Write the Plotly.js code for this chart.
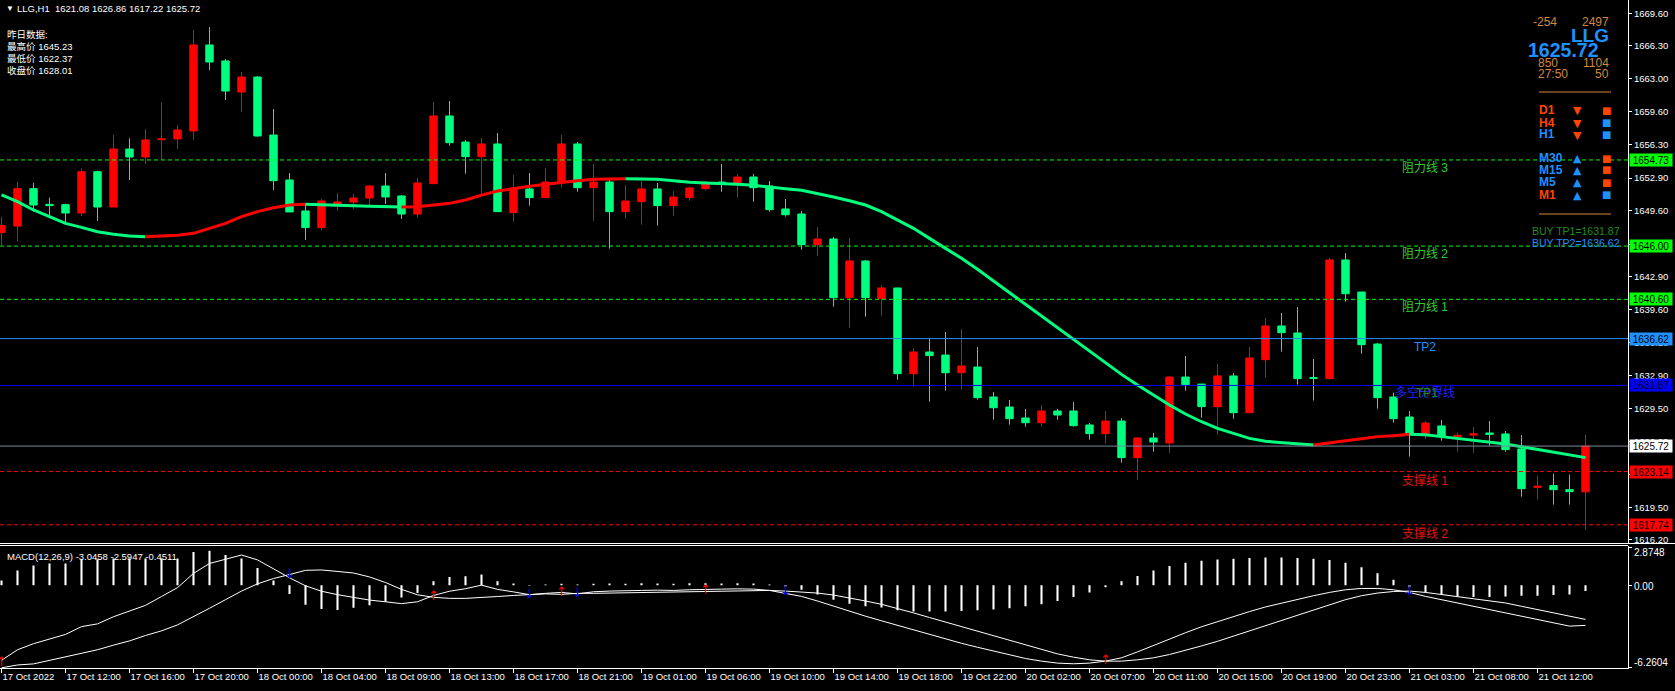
<!DOCTYPE html>
<html><head><meta charset="utf-8">
<script src="https://cdn.plot.ly/plotly-3.0.1.min.js"></script>
<style>html,body{margin:0;padding:0;background:#000;}#chart{width:1675px;height:691px;}</style>
</head><body><div id="chart"></div>
<script>
// ---------------- DATA ----------------
const symbol = 'LLG';
const period = 'H1';
const tickText = ['17 Oct 2022','17 Oct 12:00','17 Oct 16:00','17 Oct 20:00','18 Oct 00:00','18 Oct 04:00','18 Oct 09:00','18 Oct 13:00','18 Oct 17:00','18 Oct 21:00','19 Oct 01:00','19 Oct 06:00','19 Oct 10:00','19 Oct 14:00','19 Oct 18:00','19 Oct 22:00','20 Oct 02:00','20 Oct 07:00','20 Oct 11:00','20 Oct 15:00','20 Oct 19:00','20 Oct 23:00','21 Oct 03:00','21 Oct 08:00','21 Oct 12:00'];
const tickEvery = 4;

const open = [1647.36,1648.03,1651.82,1650.23,1650.20,1649.35,1653.54,1649.96,1655.84,1655.03,
1656.79,1656.86,1657.67,1666.39,1664.77,1661.62,1663.14,1657.26,1652.70,1649.56,
1647.87,1650.27,1650.47,1650.87,1652.09,1651.08,1649.25,1652.33,1659.19,1656.55,
1655.06,1656.35,1649.39,1651.79,1650.91,1652.49,1656.35,1651.92,1652.49,1649.49,
1650.50,1651.79,1650.10,1650.91,1651.82,1652.49,1652.33,1653.00,1652.09,1649.76,
1649.25,1646.14,1646.72,1640.77,1644.49,1640.67,1641.75,1633.06,1635.26,1634.95,
1633.16,1633.74,1630.70,1629.68,1628.57,1628.09,1629.28,1629.28,1627.86,1626.98,
1628.26,1624.55,1626.54,1626.03,1632.72,1632.01,1629.72,1632.83,1629.11,1634.48,
1637.90,1637.19,1632.66,1632.56,1644.59,1641.34,1636.07,1630.70,1628.67,1626.95,
1627.76,1626.68,1626.84,1627.05,1626.95,1625.43,1621.54,1621.71,1621.30,1621.08];
const high = [1648.98,1652.53,1652.43,1650.91,1650.30,1653.88,1653.65,1657.26,1656.92,1657.87,
1660.57,1658.28,1667.91,1668.21,1664.97,1663.65,1663.24,1659.90,1653.41,1650.33,
1650.77,1651.38,1651.28,1652.19,1653.41,1651.18,1652.90,1660.61,1660.71,1656.75,
1656.96,1657.46,1653.20,1653.41,1653.91,1657.26,1656.55,1654.32,1652.70,1652.19,
1652.60,1652.39,1651.58,1652.00,1652.60,1654.32,1653.31,1653.31,1652.60,1650.77,
1649.56,1647.93,1646.92,1646.82,1644.59,1642.05,1641.80,1635.66,1636.58,1637.29,
1637.59,1635.77,1631.20,1630.39,1629.48,1629.89,1629.48,1630.19,1628.06,1629.28,
1628.57,1626.64,1627.05,1632.83,1634.85,1632.01,1634.04,1633.13,1635.77,1638.71,
1639.21,1639.82,1634.55,1644.79,1645.30,1641.34,1636.17,1631.14,1629.28,1628.26,
1628.37,1627.08,1627.66,1628.26,1627.25,1626.84,1622.72,1622.92,1622.82,1626.86];
const low = [1646.11,1646.51,1649.49,1649.15,1648.20,1649.05,1648.54,1649.96,1652.70,1654.32,
1654.73,1655.84,1656.76,1663.85,1660.81,1659.59,1657.09,1651.69,1649.46,1646.62,
1647.63,1649.56,1649.76,1649.96,1650.27,1648.75,1648.88,1652.26,1656.18,1653.34,
1651.35,1649.49,1648.47,1650.10,1650.91,1651.92,1651.51,1648.57,1645.74,1648.78,
1648.17,1648.07,1649.08,1650.60,1651.62,1651.51,1650.91,1650.50,1649.49,1648.98,
1645.63,1645.03,1639.86,1637.73,1638.84,1638.94,1632.45,1631.74,1630.22,1631.34,
1631.44,1630.43,1628.40,1627.89,1627.69,1627.69,1628.40,1627.69,1626.37,1625.96,
1624.04,1622.31,1625.15,1625.05,1631.34,1628.60,1626.88,1628.50,1629.11,1632.66,
1635.29,1631.95,1630.33,1632.46,1640.36,1635.09,1629.51,1628.10,1624.65,1626.44,
1626.27,1625.15,1625.05,1625.76,1625.15,1620.59,1620.29,1619.78,1619.78,1617.22];
const close = [1648.07,1651.82,1650.16,1650.10,1649.35,1653.54,1649.96,1655.84,1655.03,1656.76,
1656.86,1657.77,1666.39,1664.66,1661.72,1663.14,1657.16,1652.63,1649.46,1647.87,
1650.57,1650.47,1650.87,1652.09,1650.98,1649.25,1652.40,1659.19,1656.48,1655.06,
1656.35,1649.49,1651.89,1650.91,1652.49,1656.35,1651.92,1652.49,1649.49,1650.57,
1651.79,1650.10,1650.97,1651.89,1652.39,1652.36,1653.00,1651.92,1649.69,1649.18,
1646.14,1646.72,1640.77,1644.49,1640.77,1641.75,1633.06,1635.26,1634.89,1633.16,
1633.84,1630.63,1629.61,1628.50,1628.09,1629.28,1628.87,1627.79,1626.98,1628.26,
1624.55,1626.54,1626.13,1632.72,1631.95,1629.72,1632.83,1629.11,1634.65,1637.90,
1637.22,1632.56,1632.59,1644.59,1641.17,1636.00,1630.63,1628.50,1626.95,1628.06,
1626.74,1626.81,1626.95,1626.91,1625.36,1621.40,1621.64,1621.30,1621.10,1625.72];
const maLine = [1651.18,1650.50,1649.66,1648.98,1648.30,1647.90,1647.46,1647.19,1647.02,1646.95,
1647.02,1647.09,1647.29,1647.80,1648.30,1648.98,1649.49,1649.89,1650.16,1650.23,
1650.20,1650.14,1650.10,1650.03,1650.00,1649.96,1649.99,1650.16,1650.33,1650.67,
1651.17,1651.58,1651.85,1652.06,1652.26,1652.46,1652.63,1652.77,1652.80,1652.83,
1652.82,1652.77,1652.63,1652.46,1652.39,1652.36,1652.26,1652.16,1652.02,1651.82,
1651.65,1651.35,1650.98,1650.60,1650.16,1649.49,1648.64,1647.80,1646.78,1645.77,
1644.76,1643.64,1642.46,1641.27,1640.03,1638.84,1637.66,1636.47,1635.29,1634.11,
1632.99,1631.91,1630.90,1629.88,1628.97,1628.19,1627.52,1627.01,1626.50,1626.20,
1626.07,1625.90,1625.83,1626.07,1626.27,1626.47,1626.68,1626.78,1626.91,1626.88,
1626.68,1626.51,1626.34,1626.17,1625.93,1625.66,1625.39,1625.15,1624.88,1624.55];

const macdMain = [-5.69,-4.89,-4.43,-4.08,-3.73,-3.14,-2.93,-2.39,-1.93,-1.53,
-0.86,-0.19,0.89,1.64,1.96,2.28,1.91,1.21,0.56,-0.05,
-0.46,-0.72,-0.94,-1.13,-1.26,-1.40,-1.26,-0.78,-0.46,-0.27,
0.0,-0.32,-0.51,-0.72,-0.62,-0.55,-0.66,-0.5,-0.45,-0.45,
-0.4,-0.38,-0.4,-0.35,-0.3,-0.3,-0.28,-0.3,-0.4,-0.6,
-0.85,-1.2,-1.6,-2.0,-2.35,-2.7,-3.05,-3.4,-3.75,-4.1,
-4.4,-4.7,-5.0,-5.3,-5.55,-5.75,-5.9,-5.95,-5.9,-5.75,
-5.5,-5.05,-4.55,-4.05,-3.6,-3.15,-2.75,-2.35,-2.0,-1.65,
-1.35,-1.05,-0.8,-0.55,-0.35,-0.25,-0.25,-0.35,-0.55,-0.85,
-1.1,-1.35,-1.6,-1.85,-2.1,-2.35,-2.6,-2.85,-3.1,-3.0458];
const macdSignal = [-6.2604,-6.04,-5.96,-5.69,-5.42,-5.16,-4.89,-4.54,-4.22,-3.81,
-3.46,-3.01,-2.40,-1.75,-1.10,-0.45,0.10,0.50,0.80,1.12,
1.15,1.05,0.92,0.62,0.20,-0.32,-0.73,-0.92,-1.0,-1.0,
-0.95,-0.86,-0.78,-0.70,-0.66,-0.7,-0.62,-0.62,-0.6,-0.57,
-0.55,-0.52,-0.5,-0.48,-0.46,-0.44,-0.42,-0.4,-0.4,-0.45,
-0.5,-0.6,-0.75,-0.95,-1.2,-1.45,-1.75,-2.1,-2.45,-2.8,
-3.15,-3.5,-3.85,-4.2,-4.55,-4.9,-5.2,-5.45,-5.65,-5.75,
-5.75,-5.65,-5.5,-5.25,-4.95,-4.6,-4.25,-3.85,-3.45,-3.05,
-2.65,-2.25,-1.85,-1.45,-1.1,-0.8,-0.6,-0.48,-0.45,-0.55,
-0.7,-0.85,-1.0,-1.15,-1.35,-1.6,-1.85,-2.1,-2.35,-2.5947];
const macdHist = [0.35,1.10,1.48,1.64,1.64,1.96,1.96,2.01,2.01,2.01,
2.01,2.01,2.50,2.60,2.28,2.01,1.29,0.35,-0.67,-1.48,
-1.80,-1.88,-1.72,-1.53,-1.26,-0.94,-0.59,0.30,0.62,0.67,
0.81,0.30,0.13,-0.05,0.05,0.1,0.05,0.1,0.12,0.1,
0.15,0.12,0.1,0.15,0.15,0.12,0.15,0.12,0.05,-0.1,
-0.35,-0.7,-1.1,-1.4,-1.6,-1.7,-1.9,-2.0,-2.0,-2.0,
-1.95,-1.9,-1.85,-1.75,-1.6,-1.45,-1.2,-0.9,-0.55,-0.15,
0.3,0.7,1.1,1.45,1.7,1.85,1.95,2.0,2.05,2.1,
2.1,2.05,2.0,1.9,1.7,1.35,0.9,0.4,-0.15,-0.55,
-0.75,-0.85,-0.9,-0.9,-0.85,-0.8,-0.8,-0.75,-0.7,-0.4511];
const macdMax = 2.8748, macdMin = -6.2604;
const crossBars = [0,18,27,33,35,36,44,49,69,88];
const crossDirs = ['up','down','up','down','up','down','up','down','up','down'];
const crossVals = [-5.9,0.75,-0.85,-0.7,-0.6,-0.62,-0.42,-0.5,-5.75,-0.5];

const priceTicks = [1669.6,1666.3,1663.0,1659.6,1656.3,1652.9,1649.6,1646.2,1642.9,1639.6,1636.2,1632.9,1629.5,1626.2,1622.8,1619.5,1616.2];

const levelNames = ['阻力线 3','阻力线 2','阻力线 1','TP2','多空分界线','支撑线 1','支撑线 2'];
const levelValues = [1654.73,1646.00,1640.60,1636.62,1631.87,1623.14,1617.74];
const yesterdayLabels = ['最高价','最低价','收盘价'];
const yesterdayValues = [1645.23,1622.37,1628.01];
const statLeft = ['-254','850','27:50'];
const statRight = ['2497','1104','50'];
const tfNames = ['D1','H4','H1','M30','M15','M5','M1'];
const tfTrend = ['down','down','down','up','up','up','up'];
const tfNameSide = ['sell','sell','buy','buy','buy','buy','sell'];
const tfBoxSide = ['sell','buy','buy','sell','sell','sell','buy'];
const buyTP = [1631.87,1636.62];

// ---------------- STYLE / LAYOUT ----------------
const PW = 1628, PH = 668;
const px = x => x / PW;
const py = y => 1 - y / PH;
const RED = '#ff0000', GREEN = '#00ff7f', LIME = '#00ff00', DODGER = '#1e90ff', BLUE = '#0000ff', ORANGERED = '#ff4500', PERU = '#d2873c';
const FONT = 'Liberation Sans, Arial, sans-serif';
const CJK = 'Liberation Sans, Noto Sans CJK SC, sans-serif';
const idx = open.map((_, i) => i);
const lastI = close.length - 1;

const traces = [];
traces.push({
  type: 'candlestick', x: idx, open: open, high: high, low: low, close: close,
  increasing: {line: {color: RED, width: 1}, fillcolor: RED},
  decreasing: {line: {color: GREEN, width: 1}, fillcolor: GREEN},
  whiskerwidth: 0, hoverinfo: 'skip', showlegend: false, xaxis: 'x', yaxis: 'y'
});
// MA coloured by direction
let run = null;
const runs = [];
for (let i = 0; i < maLine.length - 1; i++) {
  const col = maLine[i + 1] > maLine[i] ? RED : GREEN;
  if (!run || run.col !== col) { run = {col: col, x: [i], y: [maLine[i]]}; runs.push(run); }
  run.x.push(i + 1); run.y.push(maLine[i + 1]);
}
runs.forEach(r => traces.push({type: 'scatter', mode: 'lines', x: r.x, y: r.y, line: {color: r.col, width: 3}, hoverinfo: 'skip', showlegend: false, xaxis: 'x', yaxis: 'y'}));
// MACD
traces.push({type: 'bar', x: idx, y: macdHist, width: 0.13, marker: {color: '#ffffff', line: {width: 0}}, hoverinfo: 'skip', showlegend: false, xaxis: 'x', yaxis: 'y2'});
traces.push({type: 'scatter', mode: 'lines', x: idx, y: macdMain, line: {color: '#ffffff', width: 1}, hoverinfo: 'skip', showlegend: false, xaxis: 'x', yaxis: 'y2'});
traces.push({type: 'scatter', mode: 'lines', x: idx, y: macdSignal, line: {color: '#ffffff', width: 1}, hoverinfo: 'skip', showlegend: false, xaxis: 'x', yaxis: 'y2'});
traces.push({type: 'scatter', mode: 'text', x: crossBars, y: crossVals,
  text: crossDirs.map(d => d === 'up' ? '↑' : '↓'),
  textfont: {family: 'DejaVu Sans', size: 13, color: crossDirs.map(d => d === 'up' ? RED : BLUE)},
  textposition: 'middle center', hoverinfo: 'skip', showlegend: false, xaxis: 'x', yaxis: 'y2', cliponaxis: false});

const shapes = [];
const annotations = [];
function txt(x, y, text, color, size, o) {
  o = o || {};
  annotations.push({xref: 'paper', yref: 'paper', x: px(x), y: py(y), text: text, showarrow: false,
    xanchor: o.xa || 'left', yanchor: o.ya || 'middle',
    font: {family: o.family || FONT, size: size, color: color, weight: o.bold ? 'bold' : 'normal'}});
}
// level lines
const levelStyle = [
  {c: LIME, dash: '4px,3px', tc: '#32cd32', box: LIME},
  {c: LIME, dash: '4px,3px', tc: '#32cd32', box: LIME},
  {c: LIME, dash: '4px,3px', tc: '#32cd32', box: LIME},
  {c: DODGER, dash: 'solid', tc: DODGER, box: DODGER},
  {c: '#0000e8', dash: 'solid', tc: '#2020ff', box: BLUE},
  {c: RED, dash: '4px,3px', tc: '#e81010', box: RED},
  {c: RED, dash: '4px,3px', tc: '#e81010', box: RED}
];
levelValues.forEach((v, i) => {
  const s = levelStyle[i];
  shapes.push({type: 'line', xref: 'paper', yref: 'y', x0: 0, x1: 1, y0: v, y1: v, line: {color: s.c, width: 1, dash: s.dash}, layer: 'above'});
  annotations.push({xref: 'paper', yref: 'y', x: px(1425), y: v, text: levelNames[i], showarrow: false, xanchor: 'center', yanchor: 'top', yshift: 1,
    font: {family: CJK, size: 12, color: s.tc}});
});
// TP1 overlaid on the bull/bear divider label
annotations.push({xref: 'paper', yref: 'y', x: px(1427), y: levelValues[4], text: 'TP1', showarrow: false, xanchor: 'center', yanchor: 'top', yshift: 1,
  font: {family: FONT, size: 12, color: '#228b22'}});
// current price line
shapes.push({type: 'line', xref: 'paper', yref: 'y', x0: 0, x1: 1, y0: close[lastI], y1: close[lastI], line: {color: '#778899', width: 1}, layer: 'above'});
// price boxes on axis
function priceBox(v, bg) {
  annotations.push({xref: 'paper', yref: 'y', x: 1 + 0.6 / PW, y: v, text: v.toFixed(2), showarrow: false, xanchor: 'left', yanchor: 'middle',
    bgcolor: bg, width: 40, height: 10, borderpad: 1, align: 'center', font: {family: FONT, size: 10, color: '#000000'}});
}
levelValues.forEach((v, i) => priceBox(v, levelStyle[i].box));
priceBox(close[lastI], '#ffffff');
// pane separators
shapes.push({type: 'line', xref: 'paper', yref: 'paper', x0: 0, x1: 1 + 47 / PW, y0: py(543.5), y1: py(543.5), line: {color: '#ffffff', width: 1}});
shapes.push({type: 'line', xref: 'paper', yref: 'paper', x0: 0, x1: 1, y0: py(545.5), y1: py(545.5), line: {color: '#ffffff', width: 1}});

// header
txt(4, 9, '▼', '#ffffff', 8);
txt(15, 9, symbol + ',' + period + '  ' + [open[lastI], high[lastI], low[lastI], close[lastI]].map(v => v.toFixed(2)).join(' '), '#ffffff', 9.5);
txt(5, 34, '昨日数据:', '#ffffff', 9.5, {family: CJK});
yesterdayLabels.forEach((l, i) => txt(5, 46.5 + 12 * i, l + ' ' + yesterdayValues[i].toFixed(2), '#ffffff', 9.5, {family: CJK}));
// MACD label
txt(5, 556, 'MACD(12,26,9) ' + macdMain[lastI].toFixed(4) + ' ' + macdSignal[lastI].toFixed(4) + ' ' + macdHist[lastI].toFixed(4), '#ffffff', 9.5);
// MACD axis labels
txt(1632, 552.5, macdMax.toFixed(4), '#ffffff', 10);
txt(1632, 586, '0.00', '#ffffff', 10);
txt(1632, 662.5, macdMin.toFixed(4), '#ffffff', 10);

// top right panel
txt(1559, 22.5, statLeft[0], PERU, 12, {xa: 'right'});
txt(1610.5, 22.5, statRight[0], PERU, 12, {xa: 'right'});
txt(1611, 36, symbol, DODGER, 19, {xa: 'right', bold: true});
txt(1600.5, 50, close[lastI].toFixed(2), DODGER, 19.5, {xa: 'right', bold: true});
txt(1536, 62.5, statLeft[1], PERU, 12);
txt(1610.5, 62.5, statRight[1], PERU, 12, {xa: 'right'});
txt(1536, 73.5, statLeft[2], PERU, 12);
txt(1610.5, 73.5, statRight[2], PERU, 12, {xa: 'right'});
shapes.push({type: 'line', xref: 'paper', yref: 'paper', x0: px(1539), x1: px(1611), y0: py(92), y1: py(92), line: {color: PERU, width: 1}});
shapes.push({type: 'line', xref: 'paper', yref: 'paper', x0: px(1539), x1: px(1611), y0: py(214), y1: py(214), line: {color: PERU, width: 1}});
const tfY = [110, 122.5, 134.5, 158, 170, 182, 194.5];
tfNames.forEach((n, i) => {
  txt(1537, tfY[i], n, tfNameSide[i] === 'sell' ? ORANGERED : DODGER, 12, {bold: true});
  txt(1577, tfY[i] + 0.5, tfTrend[i] === 'down' ? '▼' : '▲', tfTrend[i] === 'down' ? ORANGERED : DODGER, 11, {xa: 'center', family: 'DejaVu Sans'});
  txt(1606, tfY[i], '■', tfBoxSide[i] === 'sell' ? ORANGERED : DODGER, 10, {xa: 'center', family: 'DejaVu Sans'});
});
txt(1530, 231, 'BUY TP1=' + buyTP[0].toFixed(2), '#228b22', 10.5);
txt(1530, 243, 'BUY TP2=' + buyTP[1].toFixed(2), DODGER, 10.5);

const tickVals = tickText.map((_, i) => i * tickEvery);
const layout = {
  width: 1675, height: 691,
  margin: {l: 0, r: 47, t: 0, b: 23, pad: 0},
  paper_bgcolor: '#000000', plot_bgcolor: '#000000',
  showlegend: false, boxgap: 0.34,
  font: {family: FONT, color: '#ffffff', size: 10},
  xaxis: {range: [-1.5 / 16, (PW - 1.5) / 16], anchor: 'y2', showgrid: false, zeroline: false,
    tickmode: 'array', tickvals: tickVals, ticktext: tickText, ticks: 'outside', ticklen: 4, tickcolor: '#ffffff',
    ticklabelposition: 'outside right', tickfont: {family: FONT, size: 9.5, color: '#ffffff'},
    showline: true, linecolor: '#ffffff', linewidth: 1, rangeslider: {visible: false}, fixedrange: true},
  yaxis: {domain: [1 - 543 / PH, 1], range: [1669.6 - (543 - 13.3) / 9.863, 1669.6 + 13.3 / 9.863],
    side: 'right', anchor: 'x', showgrid: false, zeroline: false, tickmode: 'array', tickvals: priceTicks,
    ticktext: priceTicks.map(v => v.toFixed(2)), ticks: 'outside', ticklen: 3, tickcolor: '#ffffff',
    tickfont: {family: FONT, size: 9.5, color: '#ffffff'}, showline: true, linecolor: '#ffffff', linewidth: 1, fixedrange: true},
  yaxis2: {domain: [0, 1 - 545.5 / PH], range: [-6.27, 3.0], side: 'right', anchor: 'x', showgrid: false, zeroline: false,
    tickmode: 'array', tickvals: [macdMax, 0, macdMin], showticklabels: false, ticks: 'outside', ticklen: 3, tickcolor: '#ffffff',
    showline: true, linecolor: '#ffffff', linewidth: 1, fixedrange: true},
  shapes: shapes, annotations: annotations
};
Plotly.newPlot('chart', traces, layout, {displayModeBar: false, staticPlot: true});
</script></body></html>
